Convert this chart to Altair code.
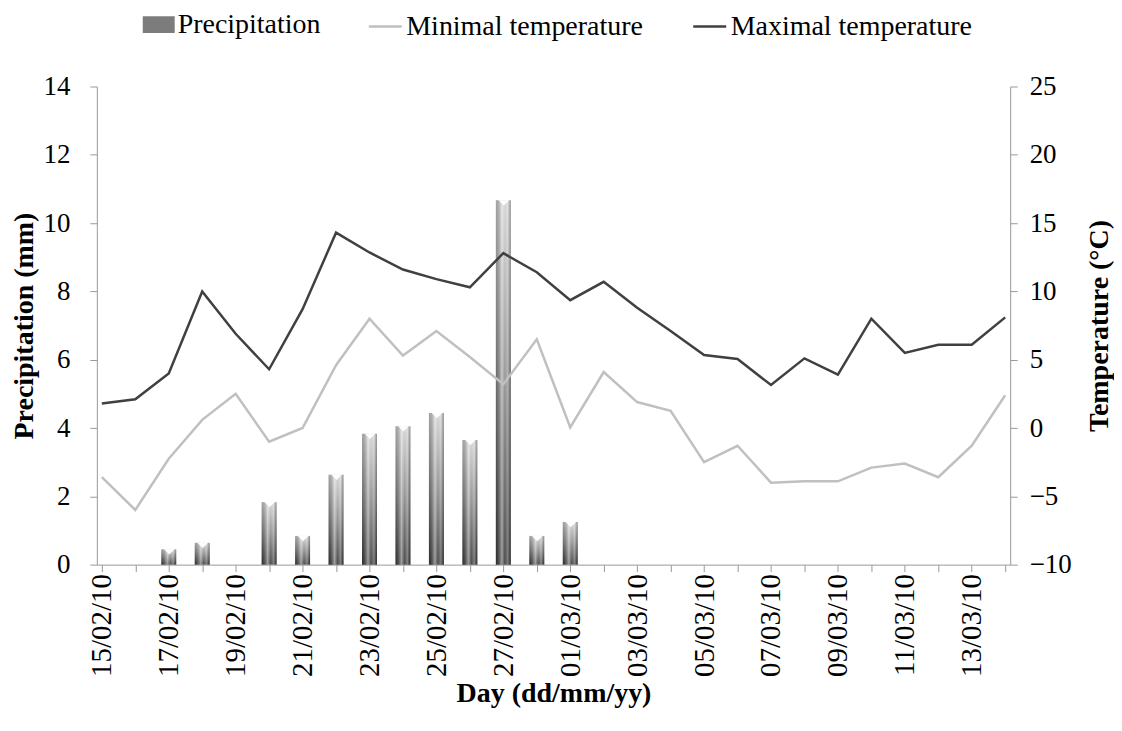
import altair as alt
import pandas as pd

days = ["15/02/10", "16/02/10", "17/02/10", "18/02/10", "19/02/10", "20/02/10", "21/02/10",
        "22/02/10", "23/02/10", "24/02/10", "25/02/10", "26/02/10", "27/02/10", "28/02/10",
        "01/03/10", "02/03/10", "03/03/10", "04/03/10", "05/03/10", "06/03/10", "07/03/10",
        "08/03/10", "09/03/10", "10/03/10", "11/03/10", "12/03/10", "13/03/10", "14/03/10"]
precip = [0, 0, 0.45, 0.64, 0, 1.83, 0.84, 2.63, 3.83, 4.05, 4.44, 3.65, 10.67, 0.84,
          1.25, 0, 0, 0, 0, 0, 0, 0, 0, 0, 0, 0, 0, 0]
tmin = [-3.6, -6.0, -2.25, 0.6, 2.5, -1.0, 0.0, 4.6, 8.0, 5.3, 7.1, 5.2, 3.2, 6.5,
        0.05, 4.1, 1.9, 1.26, -2.5, -1.3, -4.0, -3.9, -3.9, -2.9, -2.6, -3.6, -1.3, 2.4]
tmax = [1.8, 2.1, 4.0, 10.0, 6.9, 4.3, 8.7, 14.3, 12.85, 11.6, 10.9, 10.3, 12.8, 11.4,
        9.36, 10.7, 8.8, 7.1, 5.35, 5.05, 3.15, 5.1, 3.9, 8.0, 5.5, 6.1, 6.1, 8.1]
bar_name = "Precipitation"
line_names = ["Minimal temperature", "Maximal temperature"]
line_colors = ["#c0c0c0", "#404040"]
precip_ticks = [0, 2, 4, 6, 8, 10, 12, 14]
temp_ticks = [-10, -5, 0, 5, 10, 15, 20, 25]

n = len(days)
idx = list(range(n))
df_p = pd.DataFrame({"i": idx, "day": days, "precip": precip})
df_t = pd.DataFrame({
    "i": idx + idx,
    "day": days + days,
    "temp": tmin + tmax,
    "series": [line_names[0]] * n + [line_names[1]] * n,
})

shown = [f"'{d}'" if (k % 2 == 0 and k < n - 1) else "''" for k, d in enumerate(days)]
label_expr = "[" + ",".join(shown) + "][datum.value]"

FONT = "Liberation Serif"
GREY = "#999999"

xenc = alt.X(
    "i:Q",
    scale=alt.Scale(domain=[0, n - 1], nice=False, zero=False),
    axis=alt.Axis(values=idx, labelExpr=label_expr, labelAngle=270, title="Day (dd/mm/yy)",
                  grid=False, tickSize=7, labelPadding=2, titlePadding=3,
                  domainColor=GREY, tickColor=GREY, labelFont=FONT, titleFont=FONT,
                  labelFontSize=29, titleFontSize=28),
)

yp = alt.Y(
    "precip:Q",
    scale=alt.Scale(domain=[0, 14], nice=False),
    axis=alt.Axis(values=precip_ticks, title="Precipitation (mm)", grid=False, tickSize=7,
                  labelPadding=20, titlePadding=4, domainColor=GREY, tickColor=GREY,
                  labelFont=FONT, titleFont=FONT, labelFontSize=27, titleFontSize=28),
)

vert = alt.Gradient(
    gradient="linear",
    stops=[alt.GradientStop(color="#d2d2d2", offset=0),
           alt.GradientStop(color="#8a8a8a", offset=0.5),
           alt.GradientStop(color="#383838", offset=1)],
    x1=0, x2=0, y1=0, y2=1,
)
horiz = alt.Gradient(
    gradient="linear",
    stops=[alt.GradientStop(color="rgba(0,0,0,0.22)", offset=0),
           alt.GradientStop(color="rgba(255,255,255,0.50)", offset=0.4),
           alt.GradientStop(color="rgba(255,255,255,0.10)", offset=0.6),
           alt.GradientStop(color="rgba(255,255,255,0.35)", offset=0.8),
           alt.GradientStop(color="rgba(0,0,0,0.30)", offset=1)],
    x1=0, x2=1, y1=0, y2=0,
)

bars = alt.Chart(df_p).mark_bar(width=15, color=vert).encode(x=xenc, y=yp)
bars_shine = alt.Chart(df_p).mark_bar(width=15, color=horiz).encode(x=xenc, y=yp)
bar_caps = alt.Chart(df_p).transform_filter("datum.precip > 0").mark_point(
    shape="M-1,-0.5L1,-0.5L0,0.5Z", filled=True, color="white", opacity=0.95,
    size=110, yOffset=2.6, xOffset=0.5, strokeWidth=0
).encode(x=xenc, y=yp)

bar_key = alt.Chart(df_p).transform_calculate(lbl=f"'{bar_name}'").mark_point(
    opacity=0, size=0, filled=True
).encode(
    x=xenc, y=yp,
    fill=alt.Fill("lbl:N", scale=alt.Scale(domain=[bar_name], range=["#7c7c7c"]),
                  legend=alt.Legend(orient="none", legendX=46, legendY=-78, direction="horizontal",
                                    title=None, labelFont=FONT, labelFontSize=28, labelColor="black",
                                    labelOffset=3, labelLimit=0, symbolType="M-1,-0.53H1V0.53H-1Z",
                                    symbolSize=1024, symbolOpacity=1, symbolStrokeWidth=0)),
)

lines = alt.Chart(df_t).mark_line(strokeWidth=2.5).encode(
    x=xenc,
    y=alt.Y("temp:Q", scale=alt.Scale(domain=[-10, 25], nice=False),
            axis=alt.Axis(orient="right", values=temp_ticks, title="Temperature (°C)", grid=False,
                          tickSize=7, labelPadding=12, titlePadding=14, titleAngle=270,
                          titleBaseline="top", domainColor=GREY, tickColor=GREY,
                          labelFont=FONT, titleFont=FONT, labelFontSize=27, titleFontSize=28)),
    color=alt.Color("series:N", scale=alt.Scale(domain=line_names, range=line_colors),
                    legend=alt.Legend(orient="none", legendX=271, legendY=-78, direction="horizontal",
                                      title=None, labelFont=FONT, labelFontSize=28, labelColor="black",
                                      labelOffset=3, labelLimit=0, symbolType="stroke", symbolSize=1089,
                                      symbolStrokeWidth=2.5, columnPadding=44)),
)

chart = alt.layer(alt.layer(bars, bars_shine, bar_caps, bar_key), lines).resolve_scale(
    y="independent"
).properties(
    width=915, height=479, padding={"left": 3, "right": 0, "top": 0, "bottom": 0}
).configure_view(stroke=None).configure_axis(
    labelFont=FONT, titleFont=FONT, titleFontWeight="bold", labelColor="black", titleColor="black"
)

chart.save("out.html", embed_options={"renderer": "svg", "actions": False})
